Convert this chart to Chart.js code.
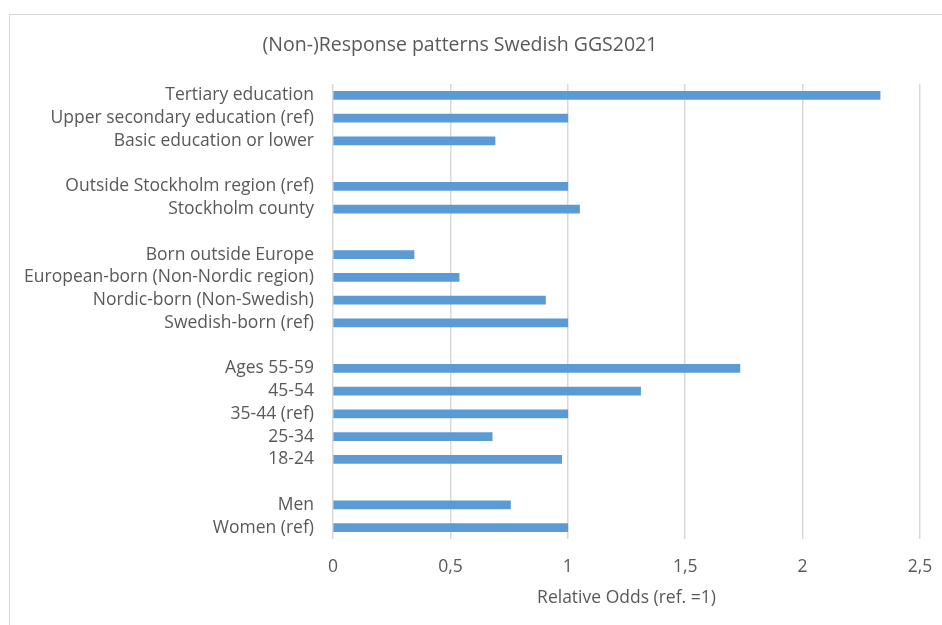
<!DOCTYPE html>
<html>
<head>
<meta charset="utf-8">
<script src="https://cdn.jsdelivr.net/npm/chart.js@4.4.0/dist/chart.umd.min.js"></script>
<style>
  html, body { margin: 0; padding: 0; background: #fff; }
  #wrap { position: relative; width: 942px; height: 625px; }
  #frame { position: absolute; left: 9px; top: 14px; right: -2px; bottom: -2px;
           border-left: 1px solid #d9d9d9; border-top: 1px solid #d9d9d9; }
  canvas { position: absolute; left: 0; top: 0; }
</style>
</head>
<body>
<div id="wrap">
  <div id="frame"></div>
  <canvas id="responseChart" width="942" height="625"></canvas>
</div>
<script>
// Categories top to bottom; empty strings are the spacer rows between groups
const categories = [
  'Tertiary education',
  'Upper secondary education (ref)',
  'Basic education or lower',
  '',
  'Outside Stockholm region (ref)',
  'Stockholm county',
  '',
  'Born outside Europe',
  'European-born (Non-Nordic region)',
  'Nordic-born (Non-Swedish)',
  'Swedish-born (ref)',
  '',
  'Ages 55-59',
  '45-54',
  '35-44 (ref)',
  '25-34',
  '18-24',
  '',
  'Men',
  'Women (ref)'
];

// Relative odds (null = spacer row)
const relativeOdds = [
  2.33, 1, 0.69,
  null,
  1, 1.05,
  null,
  0.345, 0.537, 0.905, 1,
  null,
  1.733, 1.31, 1, 0.678, 0.974,
  null,
  0.756, 1
];

const xTicks = [0, 0.5, 1, 1.5, 2, 2.5];

const chartTitle = '(Non-)Response patterns Swedish GGS2021';
const xAxisTitle = 'Relative Odds (ref. =1)';

const textColor = '#595959';
const fontFamily = '"Open Sans", "Liberation Sans", sans-serif';
const labelSize = 17.5;

// Title drawn a little left of canvas centre, like the original
const titlePlugin = {
  id: 'offsetTitle',
  afterDraw(chart) {
    const ctx = chart.ctx;
    ctx.save();
    ctx.fillStyle = textColor;
    ctx.font = '19.5px ' + fontFamily;
    ctx.textAlign = 'center';
    ctx.textBaseline = 'middle';
    ctx.fillText(chartTitle, 460, 45);
    ctx.restore();
  }
};

const ctx = document.getElementById('responseChart').getContext('2d');

new Chart(ctx, {
  type: 'bar',
  data: {
    labels: categories,
    datasets: [{
      label: 'Relative Odds',
      data: relativeOdds,
      backgroundColor: '#5B9BD5',
      barThickness: 8
    }]
  },
  plugins: [titlePlugin],
  options: {
    indexAxis: 'y',
    responsive: false,
    animation: false,
    layout: {
      padding: { top: 84, right: 22, bottom: 0, left: 0 }
    },
    plugins: {
      legend: { display: false },
      title: { display: false },
      tooltip: { enabled: false }
    },
    scales: {
      x: {
        min: 0,
        max: 2.5,
        afterBuildTicks: function(scale) {
          scale.ticks = xTicks.map(v => ({ value: v }));
        },
        afterFit: function(scale) {
          scale.height = 86;
          scale.paddingLeft = 0;
          scale.paddingRight = 0;
        },
        ticks: {
          color: textColor,
          font: { family: fontFamily, size: labelSize },
          padding: 18,
          maxRotation: 0,
          callback: function(value) {
            return String(value).replace('.', ',');
          }
        },
        grid: {
          color: '#d9d9d9',
          lineWidth: 1.5,
          drawTicks: false
        },
        border: { display: false },
        title: {
          display: true,
          text: xAxisTitle,
          color: textColor,
          font: { family: fontFamily, size: labelSize },
          padding: { top: 0, bottom: 16 }
        }
      },
      y: {
        afterFit: function(scale) {
          scale.width = 333;
        },
        ticks: {
          color: textColor,
          font: { family: fontFamily, size: labelSize },
          padding: 19,
          autoSkip: false
        },
        grid: { display: false, drawTicks: false },
        border: { display: false }
      }
    }
  }
});
</script>
</body>
</html>
